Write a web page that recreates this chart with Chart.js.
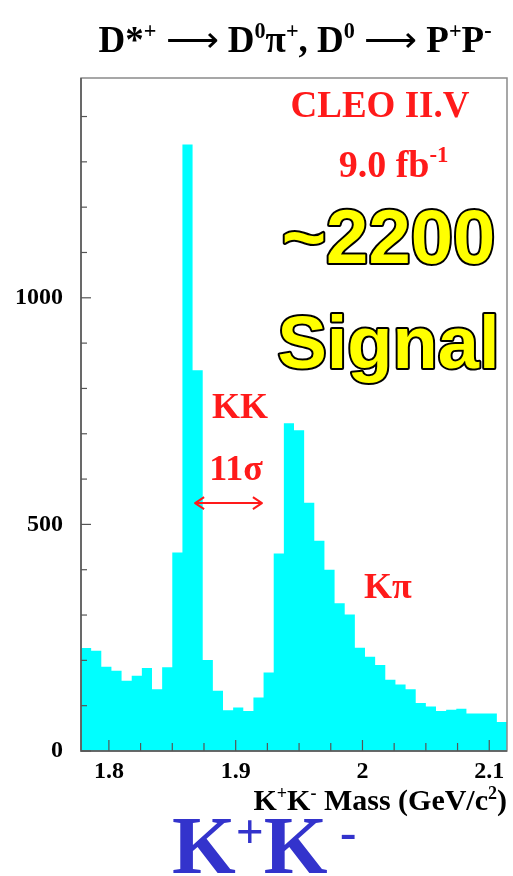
<!DOCTYPE html>
<html>
<head>
<meta charset="utf-8">
<script src="https://cdn.jsdelivr.net/npm/chart.js@4.4.1/dist/chart.umd.min.js"></script>
<style>
  html, body { margin: 0; padding: 0; background: #fff; }
  #wrap { width: 513px; height: 876px; }
</style>
</head>
<body>
<div id="wrap"><canvas id="c"></canvas></div>
<script>
// K+K- mass histogram, fixed-width bins
const binStart = 1.778;
const binWidth = 0.008;
const counts = [227, 221, 186, 177, 155, 166, 183, 136, 185, 438,
                1338, 840, 201, 133, 90, 96, 88, 118, 173, 436,
                723, 708, 548, 464, 400, 326, 301, 228, 208, 190,
                157, 147, 136, 106, 98, 88, 91, 93, 83, 83,
                83, 64];

const xRange = [1.778, 2.114];
const yRange = [0, 1485];
const xMajor = [1.8, 1.9, 2.0, 2.1];
const xLabels = ['1.8', '1.9', '2', '2.1'];
const xMinorStep = 0.025;
const yMajor = [0, 500, 1000];
const yLabels = ['0', '500', '1000'];
const yMinorStep = 100;

// text pieces: [text, kind]  kind 0 = text, 1 = superscript, 2 = thin symbol
const titleParts = [['D*', 0], ['+', 1], [' ', 0], ['\u27f6', 2], [' D', 0], ['0', 1], ['\u03c0', 0], ['+', 1],
                    [', D', 0], ['0', 1], [' ', 0], ['\u27f6', 2], [' P', 0], ['+', 1], ['P', 0], ['-', 1]];
const xTitleParts = [['K', 0], ['+', 1], ['K', 0], ['-', 1], [' Mass (GeV/c', 0], ['2', 1], [')', 0]];
const bigParts = [['K', 0], ['+', 1], ['K', 0], [' -', 1]];

// in-plot annotations, anchored in data coordinates
const notes = [
  { parts: [['CLEO II.V', 0]], x: 2.0138, y: 1399, size: 37 },
  { parts: [['9.0 fb', 0], ['-1', 1]], x: 2.0245, y: 1267, size: 38 },
  { parts: [['KK', 0]], x: 1.9034, y: 735, size: 36 },
  { parts: [['11\u03c3', 0]], x: 1.9002, y: 598, size: 36 },
  { parts: [['K\u03c0', 0]], x: 2.0201, y: 338, size: 36 }
];
const bigNotes = [
  { text: '~2200', x: 2.0205, y: 1077, size: 76 },
  { text: 'Signal', x: 2.0205, y: 845, size: 74 }
];
const arrowSpan = { x1: 1.868, x2: 1.9207, y: 547 };

const points = counts.map((c, i) => ({ x: binStart + i * binWidth, y: c }));
points.push({ x: binStart + counts.length * binWidth, y: counts[counts.length - 1] });

const SERIF = '"Liberation Serif", "Times New Roman", serif';
const SANS = '"Liberation Sans", Arial, sans-serif';

function isMajor(v, list) {
  return list.findIndex(m => Math.abs(m - v) < 1e-6);
}

function drawRich(ctx, parts, x, y, size, align, color, family, raise) {
  raise = raise || 0.38;
  let w = 0;
  const segs = parts.map(([t, kind]) => {
    const s = kind === 1 ? size * 0.6 : size;
    const font = (kind === 2 ? 'normal ' : 'bold ') + s + 'px ' + family;
    ctx.font = font;
    const m = ctx.measureText(t).width;
    w += m;
    return { t, font, m, kind };
  });
  let cx = align === 'center' ? x - w / 2 : (align === 'right' ? x - w : x);
  ctx.fillStyle = color;
  ctx.textAlign = 'left';
  ctx.textBaseline = 'alphabetic';
  segs.forEach(sg => {
    ctx.font = sg.font;
    ctx.fillText(sg.t, cx, sg.kind === 1 ? y - size * raise : y);
    cx += sg.m;
  });
}

const decorPlugin = {
  id: 'decor',
  beforeDraw(chart) {
    const ctx = chart.ctx;
    ctx.save();
    ctx.fillStyle = '#ffffff';
    ctx.fillRect(0, 0, chart.width, chart.height);
    ctx.restore();
  },
  afterDatasetsDraw(chart) {
    const ctx = chart.ctx;
    const a = chart.chartArea;
    const xs = chart.scales.x, ys = chart.scales.y;
    ctx.save();

    // frame
    ctx.strokeStyle = '#8a8a8a';
    ctx.lineWidth = 1.5;
    ctx.strokeRect(a.left, a.top, a.right - a.left, a.bottom - a.top);
    ctx.strokeStyle = '#555';
    ctx.beginPath();
    ctx.moveTo(a.left, a.top);
    ctx.lineTo(a.left, a.bottom);
    ctx.lineTo(a.right, a.bottom);
    ctx.stroke();

    // inward tick marks
    ctx.lineWidth = 1.2;
    ctx.strokeStyle = '#555';
    xs.ticks.forEach(t => {
      const px = xs.getPixelForValue(t.value);
      const len = isMajor(t.value, xMajor) >= 0 ? 11 : 8;
      ctx.beginPath();
      ctx.moveTo(px, a.bottom);
      ctx.lineTo(px, a.bottom - len);
      ctx.stroke();
    });
    ys.ticks.forEach(t => {
      const py = ys.getPixelForValue(t.value);
      const len = isMajor(t.value, yMajor) >= 0 ? 10 : 6;
      ctx.beginPath();
      ctx.moveTo(a.left, py);
      ctx.lineTo(a.left + len, py);
      ctx.stroke();
    });

    // red annotations
    notes.forEach(n => {
      drawRich(ctx, n.parts, xs.getPixelForValue(n.x), ys.getPixelForValue(n.y), n.size, 'center', '#ff1a1a', SERIF);
    });

    // yellow outlined labels
    bigNotes.forEach(n => {
      ctx.font = 'bold ' + n.size + 'px ' + SANS;
      ctx.textAlign = 'center';
      ctx.textBaseline = 'alphabetic';
      ctx.lineJoin = 'round';
      ctx.lineWidth = 4;
      ctx.strokeStyle = '#000';
      const px = xs.getPixelForValue(n.x), py = ys.getPixelForValue(n.y);
      ctx.strokeText(n.text, px, py);
      ctx.fillStyle = '#ffff00';
      ctx.fillText(n.text, px, py);
    });

    // double arrow
    const ax1 = xs.getPixelForValue(arrowSpan.x1);
    const ax2 = xs.getPixelForValue(arrowSpan.x2);
    const ay = ys.getPixelForValue(arrowSpan.y);
    ctx.strokeStyle = '#ff1a1a';
    ctx.lineWidth = 2;
    ctx.beginPath();
    ctx.moveTo(ax1, ay);
    ctx.lineTo(ax2, ay);
    ctx.moveTo(ax1 + 9, ay - 6);
    ctx.lineTo(ax1, ay);
    ctx.lineTo(ax1 + 9, ay + 6);
    ctx.moveTo(ax2 - 9, ay - 6);
    ctx.lineTo(ax2, ay);
    ctx.lineTo(ax2 - 9, ay + 6);
    ctx.stroke();

    ctx.restore();
  },
  afterDraw(chart) {
    const ctx = chart.ctx;
    const a = chart.chartArea;
    ctx.save();
    drawRich(ctx, titleParts, 295, 52, 37, 'center', '#000', SERIF);
    drawRich(ctx, xTitleParts, a.right, 810, 30, 'right', '#000', SERIF);
    drawRich(ctx, bigParts, 172, 873, 82, 'left', '#3333cc', SERIF, 0.3);
    ctx.restore();
  }
};

function minorTicks(min, max, step) {
  const out = [];
  const start = Math.ceil(min / step - 1e-9);
  for (let k = start; k * step <= max + 1e-9; k++) out.push({ value: +(k * step).toFixed(6) });
  return out;
}

new Chart(document.getElementById('c'), {
  type: 'line',
  plugins: [decorPlugin],
  data: {
    datasets: [{
      data: points,
      stepped: true,
      fill: 'origin',
      backgroundColor: '#00ffff',
      borderWidth: 0,
      borderColor: 'rgba(0,0,0,0)',
      pointRadius: 0
    }]
  },
  options: {
    responsive: true,
    maintainAspectRatio: false,
    animation: false,
    layout: { padding: { top: 78, right: 6, bottom: 0, left: 0 } },
    plugins: {
      legend: { display: false },
      tooltip: { enabled: false },
      title: { display: false }
    },
    scales: {
      x: {
        type: 'linear',
        min: xRange[0],
        max: xRange[1],
        afterBuildTicks: s => { s.ticks = minorTicks(xRange[0], xRange[1], xMinorStep); },
        afterFit: s => { s.height = 125; },
        grid: { display: false, drawTicks: false },
        border: { display: false },
        ticks: {
          autoSkip: false,
          maxRotation: 0,
          padding: 6,
          color: '#000',
          font: { family: SERIF, size: 24, weight: 'bold' },
          callback: v => { const i = isMajor(v, xMajor); return i >= 0 ? xLabels[i] : ''; }
        }
      },
      y: {
        min: yRange[0],
        max: yRange[1],
        afterBuildTicks: s => { s.ticks = minorTicks(yRange[0], yRange[1], yMinorStep); },
        afterFit: s => { s.width = 81; },
        grid: { display: false, drawTicks: false },
        border: { display: false },
        ticks: {
          autoSkip: false,
          padding: 18,
          color: '#000',
          font: { family: SERIF, size: 24, weight: 'bold' },
          callback: v => { const i = isMajor(v, yMajor); return i >= 0 ? yLabels[i] : ''; }
        }
      }
    }
  }
});
</script>
</body>
</html>
